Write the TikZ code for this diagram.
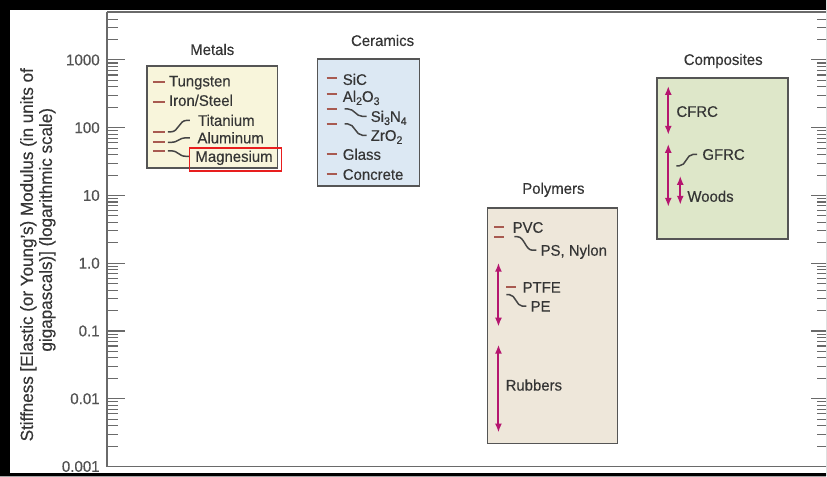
\documentclass[tikz,border=0pt]{standalone}
\usepackage{fontspec}
\setmainfont{Liberation Sans}[FakeStretch=0.97,FakeBold=0.35]
\usetikzlibrary{arrows.meta,calc}
\definecolor{ink}{HTML}{353535}
\definecolor{axisgray}{HTML}{6A6A6A}
\definecolor{boxedge}{HTML}{555555}
\definecolor{metalfill}{HTML}{F8F5DB}
\definecolor{ceramfill}{HTML}{DCE8F3}
\definecolor{polyfill}{HTML}{EEE7DA}
\definecolor{compfill}{HTML}{DEE7C9}
\definecolor{dashred}{HTML}{A85A50}
\definecolor{rangemag}{HTML}{B5166F}
\definecolor{curvegray}{HTML}{454545}
\definecolor{markred}{HTML}{E81E1E}
\newcommand\chemsub[1]{\raisebox{-0.38ex}{\fontsize{11}{12}\selectfont #1}}
\begin{document}
\begin{tikzpicture}[x=1pt,y=-1pt,
  lbl/.style={anchor=base west, inner sep=0pt, text=ink, font=\fontsize{15.4}{18}\selectfont},
  ttl/.style={anchor=base, inner sep=0pt, text=ink, font=\fontsize{15.4}{18}\selectfont},
  ticklbl/.style={anchor=east, inner sep=0pt, text=ink!85, font=\fontsize{15.6}{18}\selectfont},
  axislbl/.style={anchor=base, rotate=90, inner sep=0pt, text=ink, font=\fontsize{17.6}{20}\selectfont},
  family/.style={draw=boxedge, line width=1.6pt, inner sep=0pt},
  dashmark/.style={draw=dashred, line width=1.9pt},
  bendline/.style={draw=curvegray, line width=1.5pt},
  rangebar/.style={draw=rangemag, line width=2pt,
    arrows={Latex[length=9pt,width=7pt]-Latex[length=9pt,width=7pt]}},
  axisline/.style={draw=axisgray, line width=1.8pt},
  tickline/.style={draw=axisgray, line width=1.1pt}]

% page and white sheet
\fill[black] (0,0) rectangle (827,477);
\fill[white] (10,10) rectangle (827,474);

% axis frame
\draw[axisline] (107,12) -- (827,12);
\draw[axisline] (107,12) -- (107,467) -- (827,467);

% minor ticks (both sides)
\foreach \n in {-3,...,2}{
  \foreach \k in {2,...,9}{
    \pgfmathsetmacro\yy{60+(3-\n-log10(\k))*67.83}
    \draw[tickline] (107,\yy) -- (118,\yy);
    \draw[tickline] (827,\yy) -- (818,\yy);
  }
}
\foreach \k in {2,3,4}{
  \pgfmathsetmacro\yy{60-log10(\k)*67.83}
  \draw[tickline] (107,\yy) -- (118,\yy);
  \draw[tickline] (827,\yy) -- (818,\yy);
}
% decade ticks and labels
\foreach \i/\t in {0/1000,1/100,2/10,3/1.0,4/0.1,5/0.01,6/0.001}{
  \pgfmathsetmacro\yy{60+\i*67.83}
  \draw[tickline] (107,\yy) -- (125,\yy);
  \draw[tickline] (827,\yy) -- (812,\yy);
  \node[ticklbl] (tick\i) at (100,\yy) {\t};
}

% axis title
\node[axislbl] (ylab1) at (33,255) {Stiffness [Elastic (or Young's) Modulus (in units of};
\node[axislbl] (ylab2) at (52,230) {gigapascals)] (logarithmic scale)};

% ---------- Metals ----------
\node[family, fill=metalfill, minimum width=131pt, minimum height=102pt] (metalbox) at (212.5,117) {};
\node[ttl] (metaltitle) at (212.5,55) {Metals};
\draw[dashmark] (153,82.5) -- (165,82.5);
\draw[dashmark] (153,102) -- (165,102);
\draw[dashmark] (153,132) -- (165,132);
\draw[dashmark] (153,142.5) -- (165,142.5);
\draw[dashmark] (153,151) -- (165,151);
\node[lbl] (tung) at (169,86.5) {Tungsten};
\node[lbl] (iron) at (169,106) {Iron/Steel};
\node[lbl] (tita) at (198,126) {Titanium};
\node[lbl] (alum) at (197.5,143.5) {Aluminum};
\node[lbl] (magn) at (195.5,162) {Magnesium};
\coordinate (titaS) at (168,132);
\coordinate (alumS) at (168,142.5);
\coordinate (magnS) at (168,151);
\draw[bendline] (titaS) -- ++(3,0) .. controls +(8,0) and +(-8,0) .. ($(tita.base west)+(-11,-5.5)$) -- ($(tita.base west)+(-8,-5.5)$);
\draw[bendline] (alumS) -- ++(3,0) .. controls +(8,0) and +(-8,0) .. ($(alum.base west)+(-11,-5.5)$) -- ($(alum.base west)+(-7.5,-5.5)$);
\draw[bendline] (magnS) -- ++(3,0) .. controls +(8,0) and +(-8,0) .. ($(magn.base west)+(-9,-5.5)$) -- ($(magn.base west)+(-5.5,-5.5)$);

% ---------- Ceramics ----------
\node[family, fill=ceramfill, minimum width=102pt, minimum height=127pt] (cerambox) at (369,122.5) {};
\node[ttl] (ceramtitle) at (383,46) {Ceramics};
\foreach \yy in {78,94,109,124,154,174}{
  \draw[dashmark] (327,\yy) -- (337,\yy);
}
\node[lbl] (sic) at (343,85) {SiC};
\node[lbl] (alox) at (343,102) {Al\chemsub{2}O\chemsub{3}};
\node[lbl] (sini) at (371,122) {Si\chemsub{3}N\chemsub{4}};
\node[lbl] (zrox) at (371,141) {ZrO\chemsub{2}};
\node[lbl] (glass) at (343,160) {Glass};
\node[lbl] (concr) at (343,180) {Concrete};
\coordinate (siniS) at (345,109);
\coordinate (zroxS) at (345,124);
\draw[bendline] (siniS) -- ++(3,0) .. controls +(7,0) and +(-7,0) .. ($(sini.base west)+(-8,-5.5)$) -- ($(sini.base west)+(-4,-5.5)$);
\draw[bendline] (zroxS) -- ++(3,0) .. controls +(7,0) and +(-7,0) .. ($(zrox.base west)+(-8,-5.5)$) -- ($(zrox.base west)+(-4,-5.5)$);

% ---------- Polymers ----------
\node[family, fill=polyfill, minimum width=130pt, minimum height=236pt] (polybox) at (553,326) {};
\node[ttl] (polytitle) at (554,194) {Polymers};
\draw[dashmark] (495,227) -- (505,227);
\draw[dashmark] (495,237) -- (505,237);
\draw[dashmark] (507,287.5) -- (517,287.5);
\node[lbl] (pvc) at (513,233) {PVC};
\node[lbl] (psny) at (541,256) {PS, Nylon};
\node[lbl] (ptfe) at (523,293) {PTFE};
\node[lbl] (pe) at (531,312) {PE};
\node[lbl] (rubb) at (506,391) {Rubbers};
\coordinate (psnyS) at (515,237);
\coordinate (peS) at (507,295);
\draw[bendline] (psnyS) -- ++(3,0) .. controls +(7,0) and +(-7,0) .. ($(psny.base west)+(-8,-5.5)$) -- ($(psny.base west)+(-4,-5.5)$);
\draw[bendline] (peS) -- ++(3,0) .. controls +(6,0) and +(-6,0) .. ($(pe.base west)+(-8,-5.5)$) -- ($(pe.base west)+(-4,-5.5)$);
\coordinate (thermTop) at (499,263);
\coordinate (thermBot) at (499,327);
\coordinate (rubbTop) at (499,345);
\coordinate (rubbBot) at (499,433);
\draw[rangebar] (thermTop) -- (thermBot);
\draw[rangebar] (rubbTop) -- (rubbBot);

% ---------- Composites ----------
\node[family, fill=compfill, minimum width=131pt, minimum height=161pt] (compbox) at (723.5,158.5) {};
\node[ttl] (comptitle) at (724,65) {Composites};
\node[lbl] (cfrc) at (677,117) {CFRC};
\node[lbl] (gfrc) at (703,160) {GFRC};
\node[lbl] (wood) at (688,202) {Woods};
\coordinate (cfrcTop) at (669,86);
\coordinate (cfrcBot) at (669,135);
\coordinate (gfrcTop) at (669,144);
\coordinate (gfrcBot) at (669,207);
\coordinate (woodTop) at (681,176);
\coordinate (woodBot) at (681,205);
\coordinate (gfrcS) at (677,166);
\draw[rangebar] (cfrcTop) -- (cfrcBot);
\draw[rangebar] (gfrcTop) -- (gfrcBot);
\draw[rangebar] (woodTop) -- (woodBot);
\draw[bendline] (gfrcS) -- ++(3,0) .. controls +(7,0) and +(-7,0) .. ($(gfrc.base west)+(-9,-5.5)$) -- ($(gfrc.base west)+(-5,-5.5)$);

% highlight frame round Magnesium
\draw[draw=markred, line width=1.4pt] (190,148) rectangle (282,171);

% dark surround on top of everything
\fill[black, even odd rule] (0,0) rectangle (827,477) (10,10) rectangle (827,474);
\end{tikzpicture}
\end{document}
